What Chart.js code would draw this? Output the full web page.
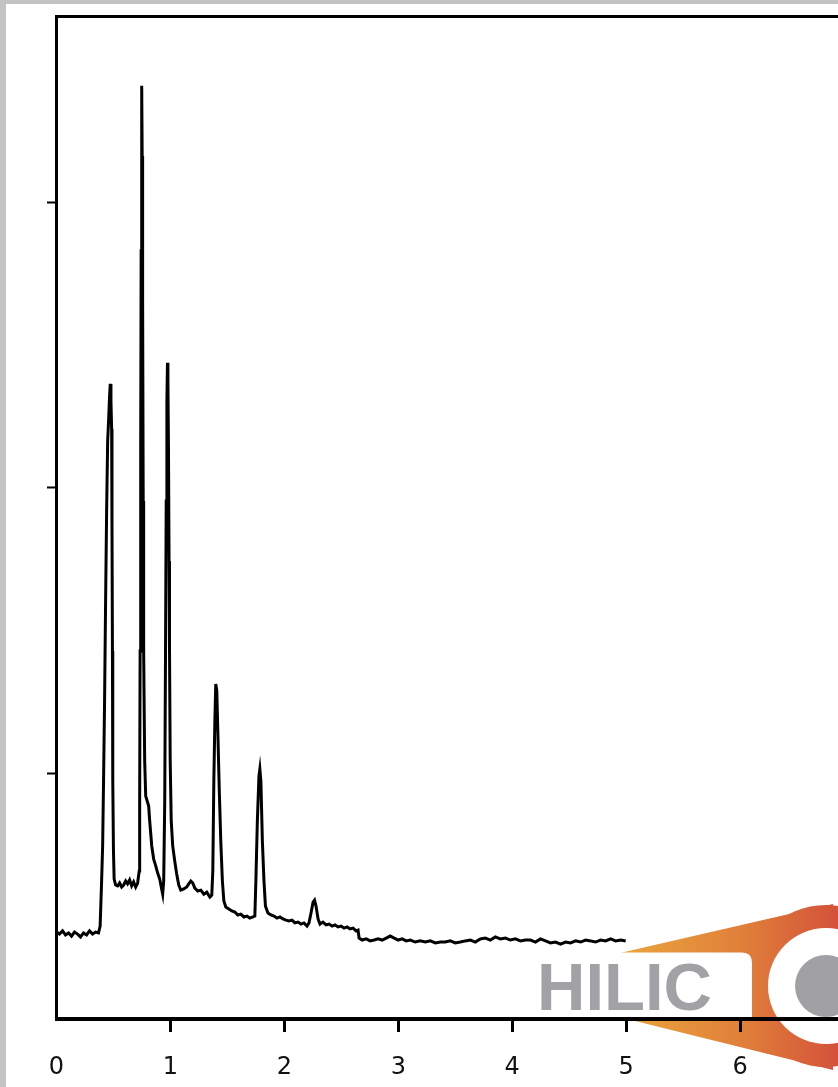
<!DOCTYPE html>
<html>
<head>
<meta charset="utf-8">
<script src="https://cdn.jsdelivr.net/npm/chart.js@4/dist/chart.umd.min.js"></script>
<style>
  html, body { margin: 0; padding: 0; overflow: hidden; }
  body { background: #c3c3c3; width: 838px; height: 1087px; position: relative; }
  .panel { position: absolute; left: 6px; top: 4px; width: 900px; height: 1100px; background: #fff; }
  .panel svg, .panel canvas { position: absolute; left: 0; top: 0; }
</style>
</head>
<body>
<div class="panel">
  <svg width="900" height="1100">
    <defs>
      <linearGradient id="logoGrad" gradientUnits="userSpaceOnUse" x1="616" y1="0" x2="832" y2="0">
        <stop offset="0" stop-color="#eaa53d"/>
        <stop offset="0.55" stop-color="#e0803a"/>
        <stop offset="1" stop-color="#d4523a"/>
      </linearGradient>
    </defs>
    <polygon points="616,948.5 827,900 827,1066 621,1015" fill="url(#logoGrad)"/>
    <circle cx="820" cy="982" r="81" fill="url(#logoGrad)"/>
    <path d="M590,948.5 H736 Q746,948.5 746,958.5 V1015 H590 Z" fill="#fff"/>
    <circle cx="820" cy="982" r="58" fill="#fff"/>
    <circle cx="820" cy="982" r="31" fill="#a1a1a5"/>
    <text x="531" y="1006" font-family="Liberation Sans, Arial, sans-serif" font-weight="bold" font-size="67" fill="#a2a2a6">HILIC</text>
  </svg>
  <canvas id="chromatogram" width="848" height="1083"></canvas>
</div>
<script>
// retention time (min)
const timeMin = [
  0, 0.026, 0.053, 0.079, 0.106, 0.132, 0.158, 0.185, 0.211, 0.237, 0.264, 0.290, 0.317, 0.343, 0.369,
  0.383, 0.396, 0.405, 0.413, 0.422, 0.431, 0.440, 0.449, 0.457, 0.466, 0.472, 0.478, 0.484, 0.487, 0.491, 0.494, 0.500, 0.506, 0.519,
  0.537, 0.554, 0.572, 0.589, 0.607, 0.624, 0.642, 0.660, 0.677, 0.695, 0.712,
  0.726, 0.730, 0.734, 0.739, 0.743, 0.748, 0.752, 0.756, 0.761, 0.765, 0.774, 0.783, 0.796, 0.809, 0.818, 0.836, 0.853, 0.871, 0.888, 0.906, 0.923, 0.932,
  0.941, 0.950, 0.957, 0.963, 0.969, 0.974, 0.978, 0.983, 0.988, 0.992, 0.998, 1.007, 1.020, 1.038, 1.055, 1.073, 1.091, 1.117, 1.143, 1.161, 1.179, 1.196, 1.214, 1.240, 1.267, 1.293, 1.319, 1.346, 1.363,
  1.372, 1.381, 1.390, 1.398, 1.407, 1.416, 1.429, 1.442, 1.456, 1.469, 1.486, 1.513, 1.539, 1.566, 1.592, 1.618, 1.645, 1.671, 1.697, 1.724, 1.741,
  1.750, 1.763, 1.777, 1.785, 1.794, 1.807, 1.821, 1.834, 1.856, 1.882, 1.909, 1.935, 1.961, 1.988, 2.014, 2.040, 2.067, 2.093, 2.120, 2.146, 2.172, 2.199, 2.216,
  2.234, 2.252, 2.265, 2.278, 2.296, 2.313, 2.339, 2.366, 2.392, 2.419, 2.445, 2.471, 2.498, 2.524, 2.551, 2.577, 2.603, 2.630, 2.647,
  2.656, 2.683, 2.718, 2.753, 2.788, 2.823, 2.858, 2.894, 2.929, 2.964, 2.999, 3.034, 3.069, 3.105, 3.149, 3.193, 3.237, 3.281, 3.325, 3.369,
  3.412, 3.456, 3.500, 3.544, 3.588, 3.632, 3.676, 3.720, 3.764, 3.808, 3.852, 3.896, 3.940, 3.984, 4.028, 4.072, 4.116, 4.160, 4.204, 4.248,
  4.292, 4.336, 4.380, 4.424, 4.468, 4.512, 4.556, 4.600, 4.644, 4.688, 4.732, 4.776, 4.820, 4.864, 4.908, 4.952, 4.996
];

// detector signal (arbitrary units)
const signal = [
  0.442, 0.435, 0.446, 0.432, 0.439, 0.428, 0.442, 0.435, 0.425, 0.439, 0.432, 0.446, 0.435, 0.442, 0.439,
  0.463, 0.621, 0.744, 0.972, 1.253, 1.604, 1.919, 2.165, 2.235, 2.323, 2.365, 2.305, 2.207, 1.884, 1.428, 0.972, 0.726, 0.628, 0.607,
  0.604, 0.614, 0.600, 0.607, 0.621, 0.611, 0.625, 0.604, 0.618, 0.600, 0.614,
  0.656, 0.902, 1.428, 2.130, 2.832, 3.411, 3.165, 2.656, 1.954, 1.428, 1.042, 0.919, 0.902, 0.884, 0.832, 0.744, 0.698, 0.674, 0.649, 0.628, 0.593, 0.575,
  0.621, 0.902, 1.428, 1.954, 2.305, 2.439, 2.375, 2.130, 1.744, 1.428, 1.042, 0.832, 0.744, 0.691, 0.646, 0.607, 0.589, 0.593, 0.600, 0.611, 0.621, 0.614, 0.596, 0.586, 0.589, 0.575, 0.582, 0.565, 0.572,
  0.656, 0.972, 1.182, 1.312, 1.288, 1.147, 0.937, 0.761, 0.621, 0.551, 0.530, 0.523, 0.516, 0.512, 0.502, 0.505, 0.495, 0.498, 0.491, 0.495, 0.498,
  0.621, 0.832, 0.989, 1.014, 0.972, 0.761, 0.621, 0.533, 0.509, 0.502, 0.498, 0.491, 0.495, 0.488, 0.484, 0.481, 0.484, 0.474, 0.477, 0.470, 0.474, 0.463, 0.474,
  0.509, 0.547, 0.554, 0.533, 0.488, 0.470, 0.477, 0.467, 0.470, 0.463, 0.467, 0.460, 0.463, 0.456, 0.460, 0.453, 0.456, 0.446, 0.449,
  0.421, 0.414, 0.418, 0.411, 0.414, 0.418, 0.414, 0.421, 0.428, 0.421, 0.414, 0.418, 0.411, 0.414, 0.407, 0.411, 0.407, 0.411, 0.404, 0.407,
  0.407, 0.411, 0.404, 0.407, 0.411, 0.414, 0.407, 0.418, 0.421, 0.414, 0.425, 0.418, 0.421, 0.414, 0.418, 0.411, 0.414, 0.414, 0.407, 0.418,
  0.411, 0.404, 0.407, 0.400, 0.407, 0.404, 0.411, 0.407, 0.414, 0.411, 0.407, 0.414, 0.411, 0.418, 0.411, 0.414, 0.411
];

const xTicks = [0, 1, 2, 3, 4, 5, 6];
const yTicks = [1, 2, 3];

const points = timeMin.map((t, i) => ({ x: t, y: signal[i] }));

const ctx = document.getElementById("chromatogram").getContext("2d");
new Chart(ctx, {
  type: "line",
  data: {
    datasets: [
      {
        label: "Signal",
        data: points,
        borderColor: "#000",
        borderWidth: 3,
        pointRadius: 0,
        tension: 0,
        fill: false,
      },
    ],
  },
  options: {
    responsive: false,
    animation: false,
    layout: { padding: 0 },
    plugins: {
      legend: { display: false },
      tooltip: { enabled: false },
    },
    scales: {
      x: {
        type: "linear",
        position: "bottom",
        min: 0,
        max: 7,
        afterBuildTicks: (s) => { s.ticks = xTicks.map((v) => ({ value: v })); },
        afterFit: (s) => { s.height = 68; s.paddingLeft = 0; s.paddingRight = 0; },
        border: { color: "#000", width: 4 },
        grid: {
          drawOnChartArea: false,
          tickLength: 13,
          tickWidth: 3,
          tickColor: (c) => (c.tick && c.tick.value === 0 ? "rgba(0,0,0,0)" : "#000"),
        },
        ticks: {
          color: "#111",
          padding: 21,
          maxRotation: 0,
          font: { family: "DejaVu Sans", size: 24 },
        },
      },
      x2: {
        type: "linear",
        axis: "x",
        position: "top",
        min: 0,
        max: 7,
        afterFit: (s) => { s.height = 12.5; s.paddingLeft = 0; s.paddingRight = 0; },
        border: { color: "#000", width: 3 },
        grid: { drawOnChartArea: false, drawTicks: false },
        ticks: { display: false },
      },
      y: {
        type: "linear",
        position: "left",
        min: 0.137,
        max: 3.654,
        afterBuildTicks: (s) => { s.ticks = yTicks.map((v) => ({ value: v })); },
        afterFit: (s) => { s.width = 50.5; },
        border: { color: "#000", width: 3 },
        grid: { drawOnChartArea: false, tickLength: 9.5, tickWidth: 2, tickColor: "#000" },
        ticks: { display: false },
      },
    },
  },
});
</script>
</body>
</html>
